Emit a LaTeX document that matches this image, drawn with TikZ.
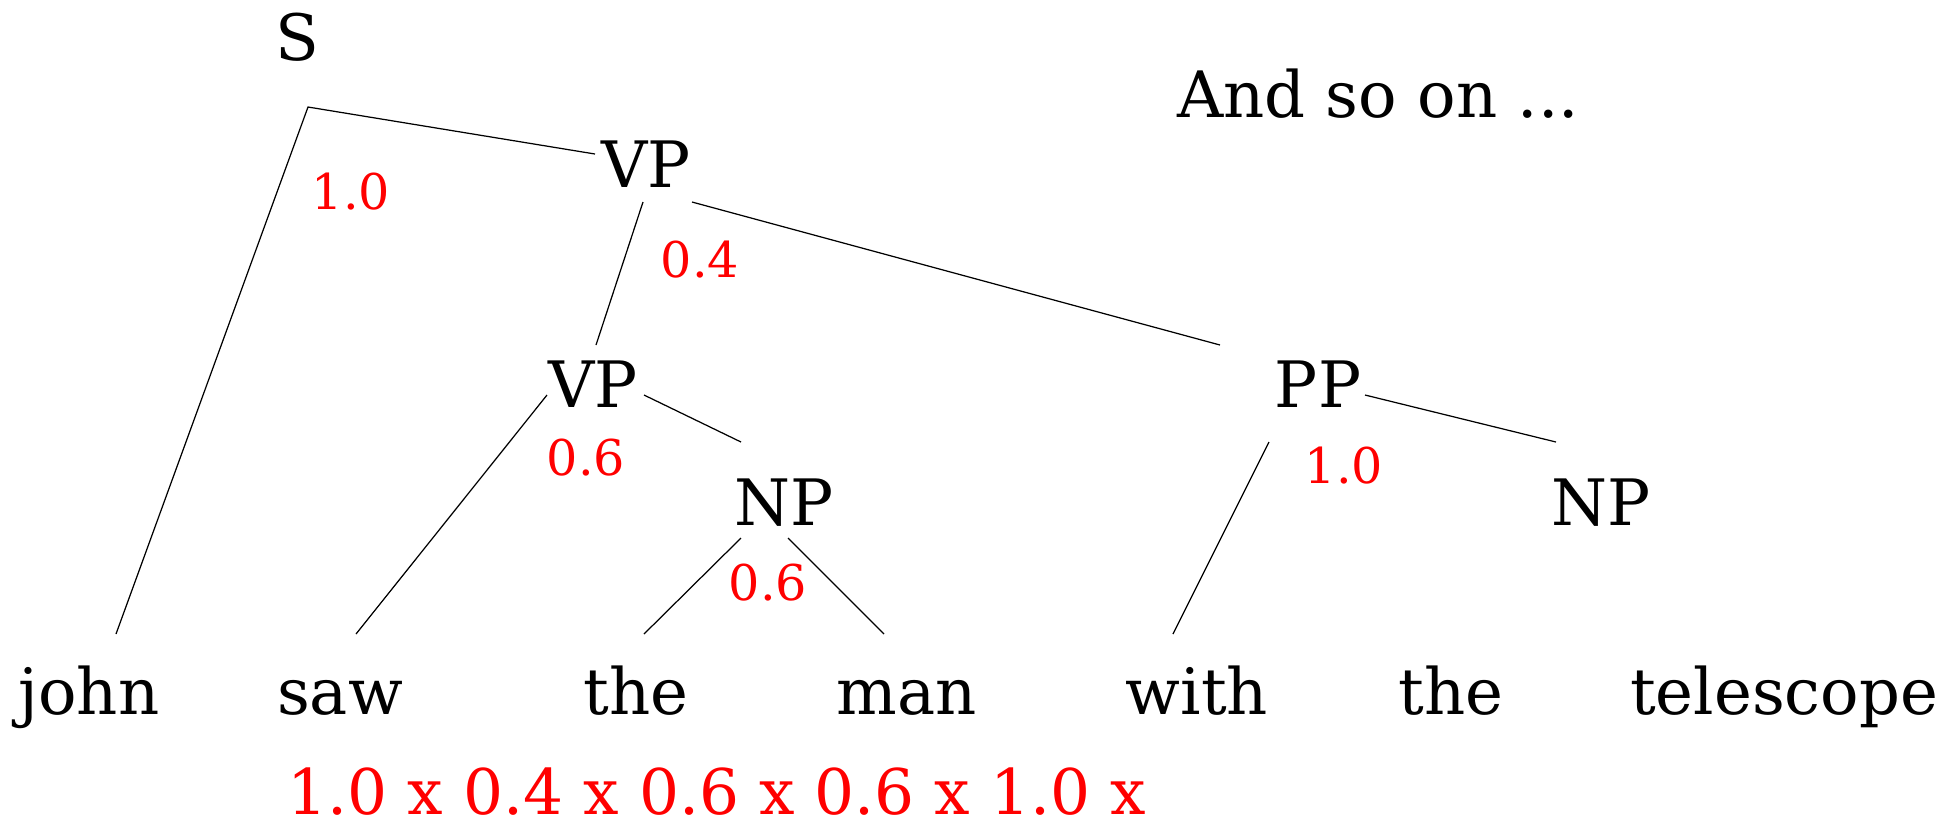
\documentclass[tikz,border=0pt]{standalone}
\usepackage{fontspec}
\setmainfont{DejaVu Serif}
\usepackage{xcolor}
\usepackage{tikz}
\tikzstyle{cat} = [inner sep=0pt, anchor=base, font=\fontsize{18.2}{20}\selectfont]
\tikzstyle{word} = [cat]
\tikzstyle{prob} = [inner sep=0pt, anchor=base, text=red, font=\fontsize{14}{16}\selectfont]
\tikzstyle{branch} = [line width=0.35pt]

\begin{document}
\begin{tikzpicture}[x=0.01cm, y=-0.01cm]
		\useasboundingbox (0,0) rectangle (1958,826);
		% categories
		\node (S)[cat] at (297,60){S};
		\node (VP1)[cat] at (646,187){VP};
		\node (VP2)[cat] at (593,407){VP};
		\node (NP1)[cat] at (784,525){NP};
		\node (PP)[cat] at (1318,407){PP};
		\node (NP2)[cat] at (1601,525){NP};
		% words
		\node (john)[word] at (89,714){john};
		\node (saw)[word] at (340,714){saw};
		\node (the1)[word] at (636,714){the};
		\node (man)[word] at (907,714){man};
		\node (with)[word] at (1197,714){with};
		\node (the2)[word] at (1451,714){the};
		\node (telescope)[word] at (1784,714){telescope};
		% rule probabilities
		\node (pS)[prob] at (351,209){1.0};
		\node (pVP1)[prob] at (700,277){0.4};
		\node (pVP2)[prob] at (586,475){0.6};
		\node (pNP1)[prob] at (768,600){0.6};
		\node (pPP)[prob] at (1344,483){1.0};
		\node (product)[cat, text=red, font=\fontsize{17.9}{20}\selectfont] at (717,814){1.0 x 0.4 x 0.6 x 0.6 x 1.0 x};
		\node (more)[cat] at (1378,117){And so on ...};
		% branches
		\coordinate (fork) at ([shift={(11,47)}]S.base);
		\draw [branch] ([shift={(-51,-33)}]VP1.base) -- (fork) -- ([shift={(27,-80)}]john.base);
		\draw [branch] ([shift={(-3,15)}]VP1.base) -- ([shift={(3,-62)}]VP2.base);
		\draw [branch] ([shift={(46,15)}]VP1.base) -- ([shift={(-98,-62)}]PP.base);
		\draw [branch] ([shift={(-46,-12)}]VP2.base) -- ([shift={(16,-80)}]saw.base);
		\draw [branch] ([shift={(51,-12)}]VP2.base) -- ([shift={(-43,-83)}]NP1.base);
		\draw [branch] ([shift={(-43,13)}]NP1.base) -- ([shift={(8,-80)}]the1.base);
		\draw [branch] ([shift={(4,13)}]NP1.base) -- ([shift={(-23,-80)}]man.base);
		\draw [branch] ([shift={(47,-12)}]PP.base) -- ([shift={(-45,-83)}]NP2.base);
		\draw [branch] ([shift={(-49,35)}]PP.base) -- ([shift={(-24,-80)}]with.base);
	\end{tikzpicture}
\end{document}
